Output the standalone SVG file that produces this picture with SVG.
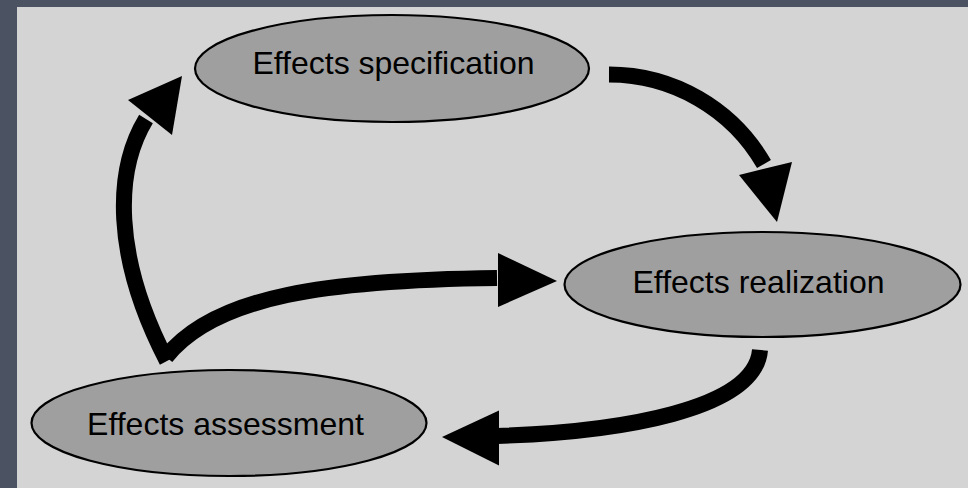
<svg xmlns="http://www.w3.org/2000/svg" width="968" height="488" viewBox="0 0 968 488">
<style>
.node ellipse{fill:#9f9f9f;stroke:#000;stroke-width:2.2}
.node text{font-family:"Liberation Sans",Arial,sans-serif;font-size:32px;fill:#000;text-anchor:middle}
.conn path{fill:none;stroke:#000;stroke-width:16;stroke-linecap:butt}
.conn polygon{fill:#000}
</style>
<rect x="0" y="0" width="968" height="488" fill="#4b5262"/>
<rect x="17" y="7" width="951" height="481" fill="#d4d4d4"/>
<g id="connectors" class="conn">
<path d="M609,74.5 A179,179 0 0 1 764,164"/>
<polygon points="739,175 792,162 777,222"/>
<path d="M760,350 C755,410 620,432 497,436"/>
<polygon points="499,410.5 499,465.5 442,437"/>
<path d="M167,361 C112,255 115,170 146,119"/>
<polygon points="128,100 172,135 182,76"/>
<path d="M166,357 C215,295 330,280 497,278"/>
<polygon points="498,253 498,307 557,281"/>
</g>
<g id="spec" class="node">
<ellipse cx="392" cy="68.5" rx="197" ry="53.5"/>
<text x="393.5" y="74">Effects specification</text>
</g>
<g id="realization" class="node">
<ellipse cx="762.5" cy="284.5" rx="198" ry="52.5"/>
<text x="758.5" y="293">Effects realization</text>
</g>
<g id="assessment" class="node">
<ellipse cx="229" cy="423" rx="197.5" ry="53"/>
<text x="225.5" y="435">Effects assessment</text>
</g>
</svg>
